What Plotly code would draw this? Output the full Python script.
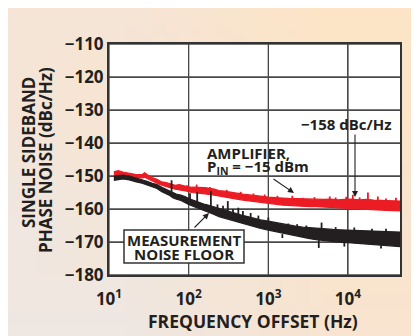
import base64
import struct
import zlib
import plotly.graph_objects as go

# ---------------- data ----------------
amp_freq = [11.5, 13, 15, 18, 22, 26, 28, 31, 35, 40, 46, 52, 60, 68, 76, 85, 95, 110,
            140, 160, 210, 240, 280, 330, 400, 480, 580, 700, 850, 1000, 1200, 1500,
            1800, 2200, 2700, 3300, 4000, 5000, 6000, 7500, 9000, 11000, 14000, 17000,
            21000, 25000, 30000, 36000, 42000, 45000]
amp_upper = [-148.7, -148.4, -148.8, -149.2, -149.6, -149.6, -149.0, -149.8, -150.5, -151.0,
             -151.8, -152.0, -152.4, -152.8, -152.6, -153.0, -153.2, -153.4,
             -153.6, -153.5, -154.0, -154.4, -154.6, -154.8, -155.2, -155.5, -155.8,
             -156.0, -156.2, -156.4, -156.6, -156.7, -156.8, -156.9, -156.8, -157.0,
             -157.0, -157.1, -157.0, -157.2, -157.1, -157.0, -157.2, -157.1, -157.3,
             -157.4, -157.5, -157.6, -157.5, -157.6]
amp_lower = [-149.7, -149.5, -149.8, -150.2, -150.6, -150.6, -150.4, -151.0, -151.5, -152.2,
             -152.8, -153.2, -153.6, -154.0, -154.3, -154.4, -154.6, -155.0,
             -155.3, -155.4, -155.8, -156.0, -156.3, -156.6, -157.0, -157.3, -157.6,
             -157.9, -158.1, -158.3, -158.5, -158.8, -159.0, -159.1, -159.2, -159.3,
             -159.3, -159.4, -159.5, -159.6, -159.6, -159.7, -159.8, -160.0, -160.1,
             -160.3, -160.4, -160.5, -160.5, -160.6]
amp_spike_freq = [95, 126, 185, 300, 450, 650, 900, 1300, 2000, 2700, 3800, 5900, 7000,
                  9500, 11500, 14000, 17800, 23700, 30000, 40000]
amp_spike_base = [-153.8, -154.0, -154.6, -155.2, -155.8, -156.3, -156.6, -157.0, -157.2,
                  -157.4, -157.4, -157.6, -157.5, -157.4, -157.6, -157.5, -157.7, -157.9,
                  -157.8, -157.8]
amp_spike_top = [-152.8, -152.6, -153.3, -154.2, -154.8, -155.3, -155.6, -156.0, -156.0,
                 -156.6, -156.4, -156.2, -156.5, -156.3, -155.7, -156.5, -155.0, -156.2,
                 -156.8, -156.6]

floor_freq = [11.5, 13, 15, 18, 22, 26, 30, 35, 40, 46, 52, 57, 63, 70, 80, 90, 100, 115,
              135, 155, 175, 205, 240, 280, 340, 450, 550, 650, 800, 1000, 1200, 1500,
              1800, 2200, 2700, 3300, 4000, 5200, 6500, 8000, 10000, 13000, 16000,
              20000, 25000, 30000, 36000, 45000]
floor_upper = [-150.0, -149.8, -149.7, -150.0, -150.6, -151.0, -151.6, -152.2, -152.6,
               -153.4, -154.0, -154.6, -155.0, -155.5, -155.8, -156.2, -156.8, -157.4,
               -158.0, -158.5, -158.8, -159.3, -160.0, -160.5, -161.0, -161.8, -162.3,
               -162.8, -163.3, -163.7, -164.1, -164.5, -164.9, -165.2, -165.5, -165.7,
               -165.9, -166.1, -166.2, -166.3, -166.4, -166.4, -166.5, -166.6, -166.7,
               -166.8, -166.9, -167.0]
floor_lower = [-151.3, -151.0, -150.9, -151.2, -151.8, -152.2, -152.6, -153.3, -153.8,
               -154.8, -155.4, -155.8, -156.6, -157.0, -157.4, -158.0, -158.6, -159.2,
               -159.8, -160.4, -161.0, -161.6, -162.3, -162.8, -163.4, -164.2, -164.8,
               -165.3, -165.9, -166.4, -166.9, -167.4, -167.8, -168.2, -168.6, -169.0,
               -169.3, -169.6, -169.9, -170.1, -170.2, -170.4, -170.5, -170.7, -170.9,
               -171.0, -171.2, -171.4]
floor_spike_freq = [61, 104, 128, 190, 230, 270, 310, 360, 420, 480, 600, 750, 1000, 1270,
                    1500, 1780, 2300, 3000, 4300, 4660, 7000, 9000, 12000, 20000, 26000,
                    30000]
floor_spike_base = [-155.3, -157.2, -158.0, -159.5, -160.2, -160.6, -161.0, -161.4, -161.8,
                    -162.2, -162.8, -163.4, -164.0, -164.6, -167.6, -165.2, -165.5, -166.0,
                    -169.0, -166.2, -166.5, -170.3, -166.7, -166.9, -171.0, -167.0]
floor_spike_top = [-151.3, -155.2, -154.8, -154.5, -158.6, -159.0, -157.6, -160.0, -159.6,
                   -160.6, -161.2, -162.0, -162.6, -165.6, -168.8, -164.4, -164.6, -165.0,
                   -171.8, -164.1, -165.5, -171.4, -165.6, -166.0, -172.0, -166.0]

y_tick_vals = [-180, -170, -160, -150, -140, -130, -120, -110]
y_tick_text = ["\u2212180", "\u2212170", "\u2212160", "\u2212150", "\u2212140",
               "\u2212130", "\u2212120", "\u2212110"]
x_tick_vals = [10, 100, 1000, 10000]
x_tick_text = ["10<sup>1</sup>", "10<sup>2</sup>", "10<sup>3</sup>", "10<sup>4</sup>"]
x_limits = [10, 45000]

# ---------------- styling ----------------
W, H = 419, 336
OFF = 8                      # page margin of the browser
L, T = 101, 36
PW, PH = 291, 231
R, B = W - L - PW, H - T - PH
FONT = "Open Sans"
INK = "#231F20"
RED = "#EC1C24"
GRID = "#4a4a4a"


def px(x):
    """screen x (reference picture) -> paper fraction"""
    return (x - OFF - L) / PW


def py(y):
    """screen y (reference picture) -> paper fraction"""
    return (T + PH - (y - OFF)) / PH


def fx(x):
    """figure x -> paper fraction"""
    return (x - L) / PW


def fy(y):
    """figure y -> paper fraction"""
    return (T + PH - y) / PH


def png_data_uri(rows):
    raw = b"".join(b"\x00" + bytes([c for p in row for c in p]) for row in rows)

    def chunk(tag, data):
        return (struct.pack(">I", len(data)) + tag + data +
                struct.pack(">I", zlib.crc32(tag + data) & 0xFFFFFFFF))

    png = (b"\x89PNG\r\n\x1a\n" +
           chunk(b"IHDR", struct.pack(">IIBBBBB", len(rows[0]), len(rows), 8, 2, 0, 0, 0)) +
           chunk(b"IDAT", zlib.compress(raw)) + chunk(b"IEND", b""))
    return "data:image/png;base64," + base64.b64encode(png).decode()


CORNERS = {"tl": (246, 229, 214), "tr": (253, 228, 198),
           "bl": (238, 231, 226), "br": (248, 228, 208)}


def bg_color(x, y):
    u, v = x / W, y / H
    out = []
    for i in range(3):
        top = CORNERS["tl"][i] * (1 - u) + CORNERS["tr"][i] * u
        bot = CORNERS["bl"][i] * (1 - u) + CORNERS["br"][i] * u
        out.append(int(round(top * (1 - v) + bot * v)))
    return tuple(out)


def band(freq, upper, lower):
    return list(freq) + list(freq[::-1]), list(upper) + list(lower[::-1])


def spikes(freq, base, top):
    xs, ys = [], []
    for f, b, t in zip(freq, base, top):
        xs += [f, f, None]
        ys += [b, t, None]
    return xs, ys


fig = go.Figure()

# grid lines at the tick values, drawn first so the curves cover them
gx, gy = [], []
for v in x_tick_vals:
    gx += [v, v, None]
    gy += [y_tick_vals[0], y_tick_vals[-1], None]
for v in y_tick_vals:
    gx += [x_limits[0], x_limits[1], None]
    gy += [v, v, None]
fig.add_trace(go.Scatter(x=gx, y=gy, mode="lines", line=dict(color=GRID, width=1.3),
                         hoverinfo="skip", showlegend=False, cliponaxis=False))

for fr, up, lo, sf, sb, st, col in [
    (amp_freq, amp_upper, amp_lower, amp_spike_freq, amp_spike_base, amp_spike_top, RED),
    (floor_freq, floor_upper, floor_lower, floor_spike_freq, floor_spike_base, floor_spike_top, INK),
]:
    bx, by = band(fr, up, lo)
    fig.add_trace(go.Scatter(x=bx, y=by, mode="lines", fill="toself", fillcolor=col,
                             line=dict(color=col, width=1.2), hoverinfo="skip",
                             showlegend=False))
    sx, sy = spikes(sf, sb, st)
    fig.add_trace(go.Scatter(x=sx, y=sy, mode="lines", line=dict(color=col, width=1.8),
                             hoverinfo="skip", showlegend=False))

fig.update_layout(
    width=W, height=H, autosize=False,
    margin=dict(l=L, r=R, t=T, b=B, pad=0),
    paper_bgcolor="rgb(246,229,214)", plot_bgcolor="white",
    font=dict(family=FONT, color=INK),
    showlegend=False,
)
fig.update_xaxes(type="log", range=[1, 4.653], tickvals=x_tick_vals, ticktext=x_tick_text,
                 showgrid=True, gridcolor=GRID, gridwidth=1.2, zeroline=False,
                 showline=True, linecolor="#333333", linewidth=2, mirror=True, ticks="",
                 tickfont=dict(family=FONT, size=17, color=INK, weight="bold"),
                 ticklabelstandoff=8)
fig.update_yaxes(range=[-180, -110], tickvals=y_tick_vals, ticktext=y_tick_text,
                 showgrid=True, gridcolor=GRID, gridwidth=1.2, zeroline=False,
                 showline=True, linecolor="#333333", linewidth=2, mirror=True, ticks="",
                 tickfont=dict(family=FONT, size=17, color=INK, weight="bold"),
                 ticklabelstandoff=0)

# gradient background: four strips around the plot area
for x0, y0, x1, y1 in [(0, 0, W, T), (0, T + PH, W, H), (0, T, L, T + PH), (L + PW, T, W, T + PH)]:
    uri = png_data_uri([[bg_color(x0, y0), bg_color(x1, y0)],
                        [bg_color(x0, y1), bg_color(x1, y1)]])
    fig.add_layout_image(dict(source=uri, xref="paper", yref="paper",
                              x=fx(x0), y=fy(y0), sizex=(x1 - x0) / PW, sizey=(y1 - y0) / PH,
                              xanchor="left", yanchor="top", sizing="stretch", layer="below"))

# label box for the noise floor
fig.add_shape(type="rect", xref="paper", yref="paper", x0=px(124), x1=px(244),
              y0=py(263), y1=py(230), fillcolor="white",
              line=dict(color="#333333", width=1.5), layer="above")


def text(s, x, y, size, xanchor="center", angle=0):
    fig.add_annotation(text="<b>" + s + "</b>", xref="paper", yref="paper", x=px(x), y=py(y),
                       xanchor=xanchor, yanchor="middle", showarrow=False, textangle=angle,
                       font=dict(family=FONT, size=size, color=INK))


def arrow(x_head, y_head, x_tail, y_tail):
    fig.add_annotation(text="", xref="paper", yref="paper", x=px(x_head), y=py(y_head),
                       ax=x_tail - x_head, ay=y_tail - y_head, showarrow=True,
                       arrowhead=2, arrowsize=1.1, arrowwidth=1.1, arrowcolor=INK)


text("\u2212158 dBc/Hz", 346, 124, 15)
arrow(355, 197, 355, 133)
text("AMPLIFIER,", 205, 153, 15, xanchor="left")
text("P<sub>IN</sub> = \u221215 dBm", 205, 167, 15, xanchor="left")
arrow(294, 193, 272, 178)
text("MEASUREMENT", 184, 240, 15)
text("NOISE FLOOR", 184, 254, 15)
arrow(209, 213, 193, 229)
text("FREQUENCY OFFSET (Hz)", 253, 321, 17.5)
text("SINGLE SIDEBAND", 28, 153, 17, angle=-90)
text("PHASE NOISE (dBc/Hz)", 45, 160, 17, angle=-90)

fig.write_html("out.html")
